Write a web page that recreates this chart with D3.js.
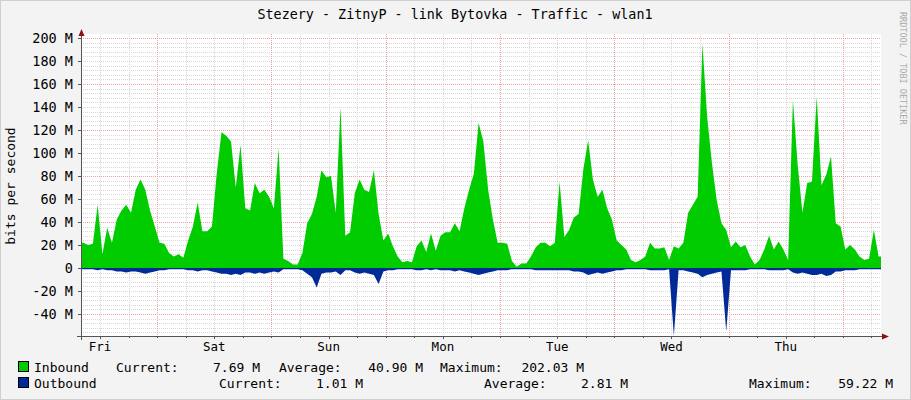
<!DOCTYPE html>
<html><head><meta charset="utf-8">
<script src="https://cdn.jsdelivr.net/npm/d3@7"></script>
<style>body{margin:0;background:#f3f3f3}svg{display:block}text{font-family:"DejaVu Sans Mono",monospace;fill:#000}</style>
</head><body><svg id="c" width="911" height="400"></svg>
<script>
const title = "Stezery - ZitnyP - link Bytovka - Traffic - wlan1";
const dayLabels = ["Fri","Sat","Sun","Mon","Tue","Wed","Thu"];
const yTicks = [-40,-20,0,20,40,60,80,100,120,140,160,180,200];
// hourly inbound (Mbit/s), 168 hours
const inbound = [
22,20,21,55,12,35,22,42,50,55,48,68,77,68,50,36,22,21,13,10,12,9,24,36,
57,32,32,36,82,118,115,110,70,107,52,50,74,65,68,62,52,104,8,6,3,3,13,39,
47,62,85,79,80,48,140,28,31,65,77,68,66,85,47,24,30,19,10,5,6,5,19,24,
14,30,15,28,31,31,39,32,52,68,82,126,110,68,42,22,22,21,6,1,4,4,10,18,
22,22,19,22,75,27,33,44,47,86,111,77,62,68,52,42,24,20,16,7,5,7,10,22,
17,17,18,7,19,17,22,48,55,62,195,131,91,59,39,33,18,23,18,20,10,3,7,16,
28,16,23,16,7,146,90,48,74,75,149,72,81,97,39,36,16,20,16,10,7,8,33,10];
// hourly outbound (Mbit/s, drawn below zero)
const outbound = [
1,1,1,2,1,2,2,3,3,4,3,3,4,5,4,3,2,2,1,1,1,1,2,2,
3,2,2,3,4,5,5,6,5,6,4,4,5,4,5,4,3,4,1,1,1,1,2,5,
8,17,5,4,4,3,6,2,2,4,5,4,5,6,14,3,2,2,1,1,1,1,2,2,
1,2,1,2,2,2,3,2,3,4,5,6,5,4,3,2,2,2,1,1,1,1,1,2,
2,2,2,2,2,2,2,3,3,4,6,5,4,5,4,3,2,2,1,1,1,1,1,2,
2,2,2,1,59,2,2,3,4,5,8,6,5,4,3,55,2,2,2,2,1,1,1,1,
2,2,2,2,1,4,5,4,5,6,6,5,7,6,3,3,2,2,2,1,1,1,1,1];
const legend = [
  {name:"Inbound", color:"#00cc00", cur:"7.69 M", avg:"40.90 M", max:"202.03 M"},
  {name:"Outbound", color:"#002a97", cur:"1.01 M", avg:"2.81 M", max:"59.22 M"}];

const svg = d3.select("#c");
const L=81, R=881, T=34, B=336;
const x = d3.scaleLinear().domain([0,168]).range([L,R]);
const y = d3.scaleLinear().domain([0,200]).range([268,38]);
const Y0 = y(0), yy = v => y(v);

svg.append("rect").attr("x",0.5).attr("y",0.5).attr("width",910).attr("height",399).attr("fill","#f3f3f3").attr("stroke","#cfcfcf");
svg.append("rect").attr("x",L).attr("y",T).attr("width",R-L).attr("height",B-T).attr("fill","#fff");

const g = svg.append("g");
for(let v=-56; v<=200; v+=4){
  if(v%40===0) continue;
  g.append("line").attr("x1",L).attr("x2",R).attr("y1",Math.round(yy(v))+0.5).attr("y2",Math.round(yy(v))+0.5)
   .attr("stroke","#d8d8d8").attr("stroke-dasharray","1,1");
}
for(let h=4; h<168; h+=6){
  if((h-16)%24===0) continue;
  g.append("line").attr("x1",Math.round(x(h))+0.5).attr("x2",Math.round(x(h))+0.5).attr("y1",T).attr("y2",B)
   .attr("stroke","#d8d8d8").attr("stroke-dasharray","1,1");
}
for(let v=-40; v<=200; v+=40){
  g.append("line").attr("x1",L).attr("x2",R).attr("y1",Math.round(yy(v))+0.5).attr("y2",Math.round(yy(v))+0.5)
   .attr("stroke","#f3a0a0").attr("stroke-dasharray","1,1");
}
for(let h=16; h<168; h+=24){
  g.append("line").attr("x1",Math.round(x(h))+0.5).attr("x2",Math.round(x(h))+0.5).attr("y1",T).attr("y2",B)
   .attr("stroke","#f3a0a0").attr("stroke-dasharray","1,1");
}

const px = i => x(Math.min(168, Math.max(0, i+0.5)));
const pts = a => [a[0]].concat(a, [a[a.length-1]]);
const xs = i => i===0 ? x(0) : (i===inbound.length+1 ? x(168) : x(i-0.5));
const inA = d3.area().x((d,i)=>xs(i)).y0(Y0).y1(d=>yy(d));
svg.append("path").attr("d",inA(pts(inbound))).attr("fill","#00cc00");
const outA = d3.area().x((d,i)=>xs(i)).y0(Y0).y1(d=>yy(-d));
svg.append("path").attr("d",outA(pts(outbound))).attr("fill","#002a97");
svg.append("line").attr("x1",L).attr("x2",R).attr("y1",Math.round(Y0)+0.5).attr("y2",Math.round(Y0)+0.5).attr("stroke","#002a97");

svg.append("line").attr("x1",L+0.5).attr("x2",L+0.5).attr("y1",32).attr("y2",B+4).attr("stroke","#555");
svg.append("line").attr("x1",L-4).attr("x2",R+2).attr("y1",B+0.5).attr("y2",B+0.5).attr("stroke","#555");
svg.append("path").attr("d",`M${L-2.5},36 L${L+3.5},36 L${L+0.5},29 Z`).attr("fill","#901010");
svg.append("path").attr("d",`M${R+1},${B-2.5} L${R+1},${B+3.5} L${R+8},${B+0.5} Z`).attr("fill","#901010");
yTicks.forEach(v=>{
  svg.append("line").attr("x1",L-3).attr("x2",L).attr("y1",Math.round(yy(v))+0.5).attr("y2",Math.round(yy(v))+0.5).attr("stroke","#555");
  svg.append("text").attr("x",73).attr("y",yy(v)+5).attr("text-anchor","end").attr("font-size",13.5)
   .text(v===0?"0":(v<0?"-":"")+Math.abs(v)+" M");
});
for(let h=4; h<168; h+=6){
  svg.append("line").attr("x1",Math.round(x(h))+0.5).attr("x2",Math.round(x(h))+0.5).attr("y1",B).attr("y2",B+(((h-4)%24===0)?3:2)).attr("stroke","#555");
}
dayLabels.forEach((d,i)=>{
  svg.append("text").attr("x",x(4+24*i)).attr("y",351).attr("text-anchor","middle").attr("font-size",12.5).text(d);
});
svg.append("text").attr("x",455).attr("y",19).attr("text-anchor","middle").attr("font-size",13.4).text(title);
svg.append("text").attr("transform","translate(15,186) rotate(-90)").attr("text-anchor","middle").attr("font-size",13).text("bits per second");
svg.append("text").attr("transform","translate(900,12) rotate(90)").attr("font-size",8.5).style("fill","#aaaaaa").text("RRDTOOL / TOBI OETIKER");

const lp = [
  {y:372, cur:116, curE:260, avg:279, avgE:423, max:440, maxE:584},
  {y:388, cur:219, curE:363, avg:484, avgE:628, max:749, maxE:893}];
legend.forEach((s,i)=>{
  const p = lp[i];
  svg.append("rect").attr("x",18.5).attr("y",p.y-10.5).attr("width",10).attr("height",10).attr("fill",s.color).attr("stroke","#000");
  const t=(xx,str,anc)=>svg.append("text").attr("x",xx).attr("y",p.y).attr("font-size",13).attr("text-anchor",anc||"start").text(str);
  t(34,s.name); t(p.cur,"Current:"); t(p.curE,s.cur,"end");
  t(p.avg,"Average:"); t(p.avgE,s.avg,"end"); t(p.max,"Maximum:"); t(p.maxE,s.max,"end");
});
</script></body></html>
